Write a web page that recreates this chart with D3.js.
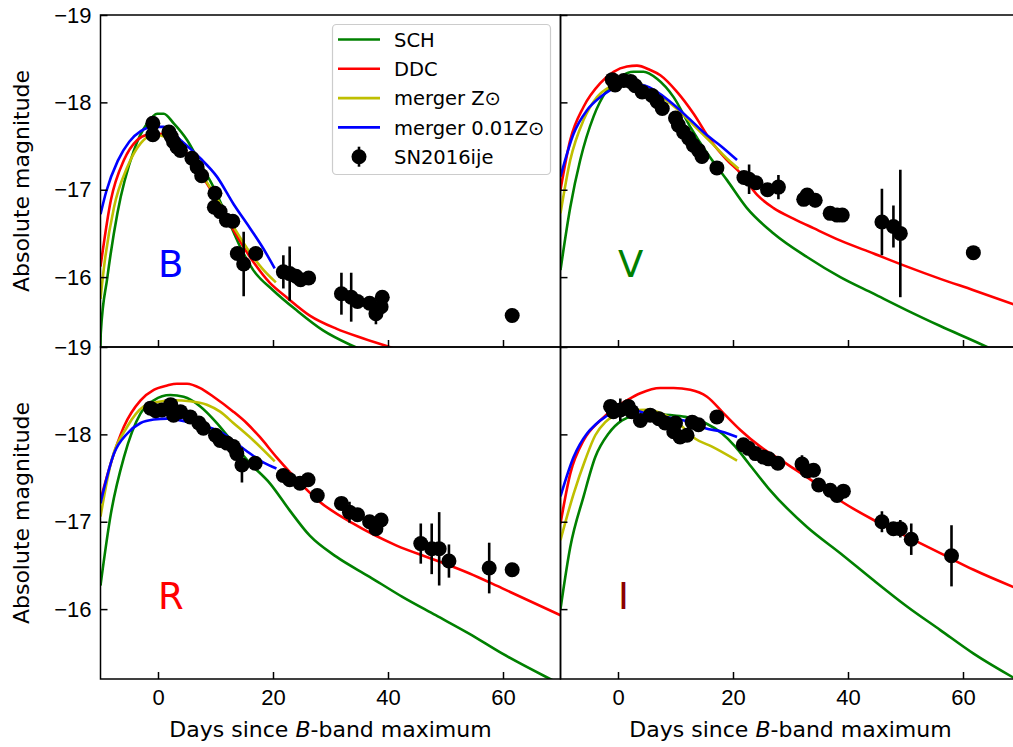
<!DOCTYPE html>
<html>
<head>
<meta charset="utf-8">
<script src="https://cdn.jsdelivr.net/npm/d3@7"></script>
<style>
  body { margin: 0; overflow: hidden; background: #fff; }
  svg { font-family: "DejaVu Sans", sans-serif; }
</style>
</head>
<body>
<script>
// axis settings
const xDomain = [-10, 70];
const yDomain = [-19, -15.2];
const xTicks = [0, 20, 40, 60];
const yTicks = [-19, -18, -17, -16];

const modelNames = ["SCH", "DDC", "merger Z\u2299", "merger 0.01Z\u2299"];
const modelColors = ["#008000", "#ff0000", "#bfbf00", "#0000ff"];
const dataName = "SN2016ije";
const bands = ["B", "V", "R", "I"];
const bandColors = ["#0000ff", "#008000", "#ff0000", "#8b0000"];

// SN2016ije photometry: [days, abs mag, error]
const bData = [
  [-0.9, -17.76, 0.05], [-0.9, -17.63, 0.05], [1.9, -17.66, 0.05], [2.3, -17.61, 0.05],
  [2.7, -17.55, 0.05], [3.3, -17.49, 0.05], [3.9, -17.45, 0.05], [5.9, -17.36, 0.05],
  [6.8, -17.26, 0.05], [7.6, -17.16, 0.05], [9.9, -16.96, 0.05], [9.8, -16.80, 0.05],
  [10.8, -16.75, 0.05], [11.9, -16.65, 0.05], [13.0, -16.64, 0.05], [13.8, -16.27, 0.05],
  [14.9, -16.15, 0.37], [17.0, -16.27, 0.05], [21.8, -16.06, 0.19], [22.9, -16.04, 0.31],
  [24.0, -16.01, 0.05], [24.8, -15.97, 0.05], [26.2, -15.99, 0.05], [31.9, -15.81, 0.24],
  [33.6, -15.77, 0.28], [34.7, -15.72, 0.05], [36.8, -15.70, 0.05], [37.9, -15.58, 0.12],
  [38.8, -15.66, 0.05], [39.0, -15.77, 0.05], [61.6, -15.56, 0.05]
];
const vData = [
  [-1.0, -18.26, 0.05], [-0.5, -18.20, 0.05], [1.0, -18.25, 0.05], [2.2, -18.24, 0.05],
  [3.0, -18.19, 0.05], [4.2, -18.12, 0.05], [5.9, -18.08, 0.05], [6.8, -18.01, 0.05],
  [7.7, -17.93, 0.05], [10.0, -17.82, 0.05], [10.5, -17.74, 0.05], [11.4, -17.66, 0.05],
  [12.3, -17.59, 0.05], [13.1, -17.51, 0.05], [14.0, -17.45, 0.05], [14.6, -17.38, 0.08],
  [17.2, -17.25, 0.05], [21.9, -17.14, 0.05], [22.8, -17.12, 0.17], [24.0, -17.08, 0.05],
  [26.0, -17.00, 0.05], [27.9, -17.03, 0.14], [32.3, -16.89, 0.05], [32.9, -16.94, 0.05],
  [34.3, -16.88, 0.08], [36.9, -16.73, 0.05], [38.1, -16.71, 0.05], [39.0, -16.71, 0.05],
  [45.9, -16.63, 0.38], [47.9, -16.58, 0.24], [49.1, -16.50, 0.73], [61.8, -16.28, 0.05]
];
const rData = [
  [-1.3, -18.30, 0.05], [-0.4, -18.27, 0.05], [0.7, -18.28, 0.05], [2.2, -18.34, 0.05],
  [2.7, -18.22, 0.05], [3.9, -18.26, 0.05], [5.6, -18.20, 0.05], [7.1, -18.13, 0.05],
  [7.9, -18.07, 0.05], [10.0, -17.99, 0.05], [10.8, -17.93, 0.05], [12.0, -17.90, 0.05],
  [13.1, -17.86, 0.05], [13.7, -17.78, 0.05], [14.6, -17.65, 0.2], [16.9, -17.67, 0.05],
  [21.8, -17.53, 0.05], [22.9, -17.48, 0.05], [24.7, -17.44, 0.05], [26.1, -17.48, 0.05],
  [27.7, -17.30, 0.05], [31.9, -17.21, 0.05], [33.3, -17.11, 0.12], [34.7, -17.08, 0.05],
  [36.8, -17.00, 0.05], [37.9, -16.92, 0.05], [38.8, -17.02, 0.05], [45.7, -16.75, 0.23],
  [47.6, -16.69, 0.29], [48.9, -16.69, 0.42], [50.6, -16.55, 0.19], [57.6, -16.47, 0.29],
  [61.6, -16.45, 0.05]
];
const iData = [
  [-1.3, -18.32, 0.05], [-0.8, -18.26, 0.05], [0.4, -18.28, 0.13], [1.8, -18.32, 0.05],
  [2.4, -18.26, 0.05], [3.9, -18.16, 0.05], [5.6, -18.22, 0.05], [7.1, -18.18, 0.05],
  [8.2, -18.13, 0.05], [9.7, -18.03, 0.05], [10.0, -18.13, 0.05], [10.8, -17.97, 0.05],
  [12.0, -17.99, 0.05], [12.9, -18.14, 0.05], [14.0, -18.11, 0.05], [17.2, -18.20, 0.05],
  [21.8, -17.88, 0.05], [22.7, -17.84, 0.05], [23.9, -17.78, 0.05], [25.3, -17.74, 0.05],
  [26.2, -17.72, 0.05], [27.8, -17.67, 0.05], [32.0, -17.66, 0.1], [32.9, -17.58, 0.05],
  [34.0, -17.59, 0.05], [34.9, -17.42, 0.08], [36.9, -17.36, 0.05], [38.1, -17.30, 0.05],
  [39.2, -17.35, 0.05], [45.9, -17.00, 0.12], [47.9, -16.92, 0.05], [49.1, -16.92, 0.1],
  [51.0, -16.80, 0.18], [58.0, -16.61, 0.35]
];

// model light curves: [days, abs mag]
const bSCH = [[-10, -15.2], [-9.95, -15.36], [-8.8, -16.0], [-7.06, -16.73], [-4.19, -17.45], [-1.87, -17.76],
  [-0.14, -17.87], [1.0, -17.87], [2.73, -17.76], [5.05, -17.57], [7.35, -17.30], [9.65, -17.03],
  [11.97, -16.69], [14.27, -16.35], [16.57, -16.08], [20.0, -15.85], [24.1, -15.62], [28.7, -15.39],
  [33.6, -15.22], [36, -15.15]];
const bDDC = [[-10, -16.12], [-8.2, -16.88], [-5.92, -17.34], [-3.6, -17.57], [-1.87, -17.63], [-0.14, -17.64],
  [1.6, -17.63], [3.9, -17.51], [7.35, -17.19], [10.24, -16.88], [13.1, -16.54], [16.0, -16.23],
  [19.5, -15.93], [22.35, -15.77], [26.4, -15.56], [31.0, -15.41], [35.6, -15.30], [40.8, -15.19]];
const bMergerZ = [[-10, -15.75], [-9.38, -16.12], [-7.65, -16.80], [-5.33, -17.26], [-3.03, -17.53], [-0.73, -17.63],
  [1.6, -17.60], [3.9, -17.48], [7.35, -17.20], [10.24, -16.90], [13.1, -16.58], [16.0, -16.28],
  [18.1, -16.10], [20.5, -15.94]];
const bMerger001 = [[-10, -16.72], [-9, -16.98], [-7, -17.33], [-5, -17.55], [-3, -17.67], [-1, -17.72],
  [1.0, -17.72], [3.9, -17.57], [7.35, -17.36], [10.24, -17.15], [13.1, -16.84], [16.0, -16.56],
  [18.1, -16.35], [20.3, -16.10]];

const vSCH = [[-10, -16.08], [-8.3, -16.80], [-6.57, -17.34], [-4.24, -17.84], [-1.91, -18.14], [0.4, -18.29],
  [2.71, -18.35], [4.45, -18.35], [6.78, -18.27], [9.67, -18.06], [12.57, -17.72], [15.48, -17.42],
  [18.96, -17.11], [22.43, -16.79], [27.06, -16.50], [32.87, -16.23], [38.66, -16.00], [44.45, -15.81],
  [50.26, -15.62], [56.05, -15.44], [64.17, -15.20], [66, -15.14]];
const vDDC = [[-10, -17.0], [-8.3, -17.57], [-5.98, -17.95], [-3.08, -18.22], [-0.77, -18.35], [1.57, -18.41],
  [3.3, -18.42], [5.6, -18.37], [7.36, -18.31], [10.26, -18.12], [13.15, -17.87], [16.05, -17.57],
  [18.96, -17.34], [21.3, -17.19], [24.2, -16.94], [27.06, -16.79], [30.5, -16.67], [34.0, -16.56],
  [38.6, -16.42], [44.45, -16.27], [50.26, -16.12], [56.05, -15.98], [61.84, -15.85], [70, -15.66]];
const vMergerZ = [[-10, -16.73], [-8.3, -17.34], [-5.98, -17.80], [-3.65, -18.06], [-1.34, -18.18], [1.27, -18.23],
  [3.88, -18.21], [7.65, -18.06], [10.54, -17.91], [13.44, -17.72], [16.35, -17.53], [19.23, -17.34],
  [20.97, -17.24]];
const vMerger001 = [[-10, -17.15], [-7.72, -17.64], [-5.39, -17.91], [-3.08, -18.06], [-1.34, -18.14], [1.27, -18.22],
  [4.75, -18.19], [9.39, -17.99], [12.28, -17.82], [15.18, -17.64], [18.09, -17.49], [20.7, -17.34]];

const rSCH = [[-10, -16.27], [-8.2, -17.09], [-5.92, -17.74], [-3.03, -18.24], [-0.73, -18.39], [2.16, -18.45],
  [4.46, -18.43], [7.35, -18.32], [10.24, -18.13], [13.1, -17.90], [16.0, -17.67], [19.46, -17.44],
  [22.9, -17.13], [26.4, -16.84], [31.0, -16.60], [36.8, -16.37], [42.5, -16.14], [48.3, -15.93],
  [54.1, -15.72], [59.9, -15.49], [67.6, -15.22], [70, -15.14]];
const rDDC = [[-10, -17.25], [-8.2, -17.67], [-5.92, -18.09], [-3.03, -18.39], [-0.73, -18.51], [1.6, -18.56],
  [3.3, -18.58], [5.05, -18.58], [7.35, -18.53], [9.65, -18.43], [13.1, -18.26], [15.4, -18.13],
  [17.7, -17.97], [20.6, -17.74], [22.9, -17.57], [28.1, -17.23], [33.9, -16.98], [41.4, -16.73],
  [48.3, -16.56], [54.1, -16.41], [59.8, -16.24], [70, -15.93]];
const rMergerZ = [[-10, -17.06], [-8.2, -17.67], [-5.33, -18.09], [-2.46, -18.32], [-0.14, -18.37], [2.73, -18.39],
  [5.6, -18.38], [8.5, -18.34], [10.8, -18.26], [13.1, -18.13], [16.6, -17.93], [20.3, -17.69]];
const rMerger001 = [[-10, -17.21], [-7.65, -17.78], [-5.33, -18.01], [-3.03, -18.13], [-0.73, -18.17], [1.6, -18.18],
  [3.9, -18.16], [7.35, -18.11], [10.8, -18.03], [13.4, -17.91], [15.4, -17.81], [18.3, -17.68],
  [20.6, -17.61]];

const iSCH = [[-10, -16.0], [-8.3, -16.71], [-5.98, -17.29], [-3.95, -17.74], [-1.63, -18.01], [0.7, -18.16],
  [2.71, -18.21], [5.6, -18.23], [9.1, -18.22], [11.7, -18.20], [15.18, -18.13], [18.09, -18.01],
  [20.4, -17.86], [22.7, -17.67], [26.2, -17.38], [32.87, -16.94], [38.66, -16.64], [44.45, -16.33],
  [50.26, -16.03], [56.05, -15.76], [61.84, -15.49], [70, -15.17]];
const iDDC = [[-10, -16.98], [-8.3, -17.55], [-5.98, -17.93], [-3.08, -18.16], [-0.17, -18.32], [1.57, -18.39],
  [3.88, -18.47], [7.36, -18.53], [9.67, -18.53], [12.57, -18.51], [15.48, -18.43], [18.37, -18.24],
  [21.27, -18.05], [24.75, -17.86], [28.2, -17.71], [32.87, -17.51], [38.66, -17.24], [44.45, -17.02],
  [50.26, -16.83], [56.05, -16.64], [61.84, -16.45], [70, -16.22]];
const iMergerZ = [[-10, -16.79], [-7.72, -17.32], [-5.69, -17.71], [-3.95, -17.99], [-2.21, -18.14], [-0.47, -18.22],
  [2.14, -18.27], [4.75, -18.28], [8.23, -18.22], [10.8, -18.11], [13.44, -17.95], [16.35, -17.86],
  [20.7, -17.70]];
const iMerger001 = [[-10, -17.29], [-7.72, -17.74], [-5.39, -18.01], [-3.95, -18.11], [-2.21, -18.20], [-0.47, -18.26],
  [2.14, -18.28], [5.6, -18.23], [9.1, -18.19], [12.57, -18.14], [15.18, -18.07], [18.09, -18.03],
  [20.7, -17.97]];

const panelData = [bData, vData, rData, iData];
const panelModels = [
  [bSCH, bDDC, bMergerZ, bMerger001],
  [vSCH, vDDC, vMergerZ, vMerger001],
  [rSCH, rDDC, rMergerZ, rMerger001],
  [iSCH, iDDC, iMergerZ, iMerger001]
];

let width = 1013;
let height = 747;
let marginLeft = 100.5;
let marginTop = 15;
let panelW = 460;
let panelH = 332;

const svg = d3.select("body").append("svg")
    .attr("width", width)
    .attr("height", height)
    .attr("viewBox", [0, 0, width, height]);

const defs = svg.append("defs");

bands.forEach((band, i) => {
    const col = i % 2, row = Math.floor(i / 2);
    const x0 = marginLeft + col * panelW;
    const y0 = marginTop + row * panelH;

    const x = d3.scaleLinear().domain(xDomain).range([x0, x0 + panelW]);
    const y = d3.scaleLinear().domain(yDomain).range([y0, y0 + panelH]);

    defs.append("clipPath").attr("id", "clip" + i)
      .append("rect")
        .attr("x", x0).attr("y", y0)
        .attr("width", panelW).attr("height", panelH);

    const g = svg.append("g");
    const plot = g.append("g").attr("clip-path", `url(#clip${i})`);

    // model curves
    const line = d3.line().curve(d3.curveMonotoneX).x(d => x(d[0])).y(d => y(d[1]));
    plot.selectAll("path.model")
      .data(panelModels[i])
      .join("path")
        .attr("class", "model")
        .attr("d", line)
        .attr("fill", "none")
        .attr("stroke", (d, k) => modelColors[k])
        .attr("stroke-width", 2.6)
        .attr("stroke-linejoin", "round");

    // error bars and points
    plot.selectAll("line.err")
      .data(panelData[i])
      .join("line")
        .attr("class", "err")
        .attr("x1", d => x(d[0])).attr("x2", d => x(d[0]))
        .attr("y1", d => y(d[1] - d[2])).attr("y2", d => y(d[1] + d[2]))
        .attr("stroke", "#000")
        .attr("stroke-width", 2.6);
    plot.selectAll("circle")
      .data(panelData[i])
      .join("circle")
        .attr("cx", d => x(d[0]))
        .attr("cy", d => y(d[1]))
        .attr("r", 7.5)
        .attr("fill", "#000");

    // band letter
    g.append("text")
      .attr("x", x(0))
      .attr("y", y(-16))
      .attr("fill", bandColors[i])
      .style("font-size", "37px")
      .text(band);

    // axes, ticks pointing inward
    g.append("g")
      .attr("transform", `translate(0,${y0 + panelH})`)
      .call(d3.axisBottom(x).tickValues(xTicks).tickSize(-7).tickPadding(10)
        .tickFormat(row === 1 ? d3.format("d") : ""))
      .call(g => g.select(".domain").remove())
      .call(g => g.selectAll(".tick line").attr("stroke-width", 1.5))
      .call(g => g.selectAll("text").style("font-size", "22px").attr("font-family", null));

    g.append("g")
      .attr("transform", `translate(${x0},0)`)
      .call(d3.axisLeft(y).tickValues(yTicks).tickSize(-7).tickPadding(9)
        .tickFormat(col === 0 ? d3.format("d") : ""))
      .call(g => g.select(".domain").remove())
      .call(g => g.selectAll(".tick line").attr("stroke-width", 1.5))
      .call(g => g.selectAll("text").style("font-size", "22px").attr("font-family", null));

    g.append("rect")
      .attr("x", x0).attr("y", y0)
      .attr("width", panelW).attr("height", panelH)
      .attr("fill", "none")
      .attr("stroke", "#000")
      .attr("stroke-width", 1.5);

    if (row === 1) {
      const lab = g.append("text")
        .attr("x", x0 + panelW / 2)
        .attr("y", 737)
        .attr("text-anchor", "middle")
        .style("font-size", "22px");
      lab.append("tspan").text("Days since ");
      lab.append("tspan").attr("font-style", "italic").text("B");
      lab.append("tspan").text("-band maximum");
    }
    if (col === 0) {
      g.append("text")
        .attr("transform", `translate(29,${y0 + panelH / 2}) rotate(-90)`)
        .attr("text-anchor", "middle")
        .style("font-size", "22px")
        .text("Absolute magnitude");
    }
});

// legend in the B panel
const legend = svg.append("g");
legend.append("rect")
  .attr("x", 332.5).attr("y", 24.5)
  .attr("width", 218).attr("height", 150)
  .attr("rx", 4)
  .attr("fill", "#fff").attr("fill-opacity", 0.8)
  .attr("stroke", "#cccccc").attr("stroke-width", 1.2);

const rowY = k => 39.5 + k * 29.3;
modelNames.forEach((name, k) => {
  legend.append("line")
    .attr("x1", 338).attr("x2", 380)
    .attr("y1", rowY(k)).attr("y2", rowY(k))
    .attr("stroke", modelColors[k]).attr("stroke-width", 2.6);
  legend.append("text")
    .attr("x", 394).attr("y", rowY(k) + 7.3)
    .style("font-size", "19.5px")
    .text(name);
});
legend.append("line")
  .attr("x1", 359).attr("x2", 359)
  .attr("y1", rowY(4) - 10).attr("y2", rowY(4) + 10)
  .attr("stroke", "#000").attr("stroke-width", 2.6);
legend.append("circle")
  .attr("cx", 359).attr("cy", rowY(4)).attr("r", 7.5).attr("fill", "#000");
legend.append("text")
  .attr("x", 394).attr("y", rowY(4) + 7.3)
  .style("font-size", "19.5px")
  .text(dataName);
</script>
</body>
</html>
